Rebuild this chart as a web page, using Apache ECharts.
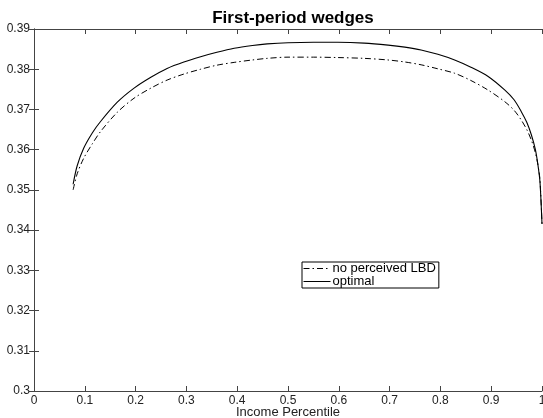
<!DOCTYPE html>
<html>
<head>
<meta charset="utf-8">
<script src="https://cdn.jsdelivr.net/npm/echarts@6/dist/echarts.min.js"></script>
<style>
html,body{margin:0;padding:0;background:#fff;}
#chart{width:543px;height:418px;}
</style>
</head>
<body>
<div id="chart"></div>
<script>
// income percentile (x) and the two wedge curves
const percentile = [0.077,0.085,0.098,0.115,0.131,0.164,0.197,0.23,0.262,0.295,0.328,0.36,0.394,0.43,0.459,0.5,0.55,0.598,0.65,0.697,0.73,0.762,0.795,0.828,0.86,0.894,0.927,0.945,0.959,0.97,0.979,0.987,0.992,0.996,1.0];
const optimal = [0.3514,0.3560,0.3604,0.3642,0.3670,0.3718,0.3753,0.3780,0.3802,0.3818,0.3831,0.3842,0.3852,0.3859,0.3863,0.3866,0.3867,0.3867,0.3865,0.3860,0.3855,0.3848,0.3837,0.3823,0.3805,0.3782,0.3748,0.3724,0.3695,0.3668,0.3637,0.3600,0.3562,0.3520,0.3415];
const noLBD = [0.3500,0.3540,0.3579,0.3615,0.3645,0.3693,0.3728,0.3753,0.3773,0.3788,0.3800,0.3810,0.3817,0.3823,0.3827,0.3830,0.3830,0.3829,0.3827,0.3823,0.3818,0.3811,0.3801,0.3790,0.3772,0.3748,0.3719,0.3698,0.3674,0.3650,0.3624,0.3592,0.3562,0.3525,0.3415];

const font = 'Liberation Sans, Arial, sans-serif';
const axisColor = '#444';

function pairs(xs, ys){
    return xs.map((x,i) => [x, ys[i]]);
}

let myChart = echarts.init(document.getElementById('chart'));
let options = {
    animation:false,
    title:{
        text:'First-period wedges',
        left:288,
        textAlign:'center',
        top:5,
        textStyle:{fontFamily:font,fontSize:17,fontWeight:'bold',color:'#000'}
    },
    legend:{
        data:['no perceived LBD','optimal'],
        orient:'vertical',
        left:302,
        top:262,
        itemWidth:27,
        itemHeight:13,
        itemGap:0,
        padding:[0,3,0,1],
        borderColor:'#000',
        borderWidth:1,
        borderRadius:0,
        selectedMode:false,
        itemStyle:{opacity:0},
        lineStyle:{width:1},
        textStyle:{fontFamily:font,fontSize:13,lineHeight:13,color:'#000',padding:[0,0,0,-3]}
    },
    grid:{left:34,right:1,top:29,bottom:27,outerBoundsMode:'none',containLabel:false},
    xAxis:[{
        type:'value',min:0,max:1,interval:0.1,
        name:'Income Percentile',nameLocation:'middle',nameGap:15,nameMoveOverlap:false,
        nameTextStyle:{fontFamily:font,fontSize:13,color:'#222',verticalAlign:'top'},
        axisLine:{lineStyle:{color:axisColor}},
        axisTick:{inside:true,length:5,lineStyle:{color:axisColor}},
        axisLabel:{fontFamily:font,fontSize:12,color:'#222',margin:4,hideOverlap:false},
        splitLine:{show:false}
    },{
        type:'value',min:0,max:1,interval:0.1,position:'top',
        axisLine:{lineStyle:{color:axisColor}},
        axisTick:{inside:true,length:5,lineStyle:{color:axisColor}},
        axisLabel:{show:false},
        splitLine:{show:false}
    }],
    yAxis:[{
        type:'value',min:0.3,max:0.39,interval:0.01,
        axisLine:{show:true,lineStyle:{color:axisColor}},
        axisTick:{show:true,inside:true,length:5,lineStyle:{color:axisColor}},
        axisLabel:{fontFamily:font,fontSize:12,color:'#222',margin:4},
        splitLine:{show:false}
    },{
        type:'value',min:0.3,max:0.39,interval:0.01,position:'right',
        axisLine:{show:true,lineStyle:{color:axisColor}},
        axisTick:{show:true,inside:true,length:5,lineStyle:{color:axisColor}},
        axisLabel:{show:false},
        splitLine:{show:false}
    }],
    series:[{
        name:'no perceived LBD',
        type:'line',
        data:pairs(percentile,noLBD),
        symbol:'none',
        smooth:0.3,
        lineStyle:{color:'#000',width:1,type:[6,3,1.5,3]},
        itemStyle:{color:'#000'}
    },{
        name:'optimal',
        type:'line',
        data:pairs(percentile,optimal),
        symbol:'none',
        smooth:0.3,
        lineStyle:{color:'#000',width:1.1},
        itemStyle:{color:'#000'}
    }]
};
myChart.setOption(options);
</script>
</body>
</html>
